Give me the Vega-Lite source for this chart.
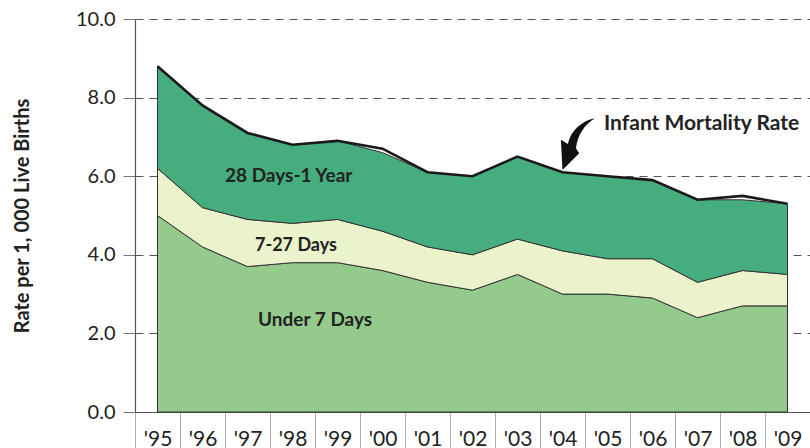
{
  "$schema": "https://vega.github.io/schema/vega-lite/v6.json",
  "width": 675,
  "height": 393,
  "autosize": {"type": "none"},
  "padding": {"left": 135, "top": 19, "right": 0, "bottom": 36},
  "background": "white",
  "config": {
    "view": {"stroke": null},
    "font": "Lato",
    "axis": {"labelFont": "Lato", "titleFont": "Lato"}
  },
  "datasets": {
    "areas": [
      {"year": "'95", "group": "Under 7 Days", "ord": 1, "rate": 5.0},
      {"year": "'96", "group": "Under 7 Days", "ord": 1, "rate": 4.2},
      {"year": "'97", "group": "Under 7 Days", "ord": 1, "rate": 3.7},
      {"year": "'98", "group": "Under 7 Days", "ord": 1, "rate": 3.8},
      {"year": "'99", "group": "Under 7 Days", "ord": 1, "rate": 3.8},
      {"year": "'00", "group": "Under 7 Days", "ord": 1, "rate": 3.6},
      {"year": "'01", "group": "Under 7 Days", "ord": 1, "rate": 3.3},
      {"year": "'02", "group": "Under 7 Days", "ord": 1, "rate": 3.1},
      {"year": "'03", "group": "Under 7 Days", "ord": 1, "rate": 3.5},
      {"year": "'04", "group": "Under 7 Days", "ord": 1, "rate": 3.0},
      {"year": "'05", "group": "Under 7 Days", "ord": 1, "rate": 3.0},
      {"year": "'06", "group": "Under 7 Days", "ord": 1, "rate": 2.9},
      {"year": "'07", "group": "Under 7 Days", "ord": 1, "rate": 2.4},
      {"year": "'08", "group": "Under 7 Days", "ord": 1, "rate": 2.7},
      {"year": "'09", "group": "Under 7 Days", "ord": 1, "rate": 2.7},
      {"year": "'95", "group": "7-27 Days", "ord": 2, "rate": 1.2},
      {"year": "'96", "group": "7-27 Days", "ord": 2, "rate": 1.0},
      {"year": "'97", "group": "7-27 Days", "ord": 2, "rate": 1.2},
      {"year": "'98", "group": "7-27 Days", "ord": 2, "rate": 1.0},
      {"year": "'99", "group": "7-27 Days", "ord": 2, "rate": 1.1},
      {"year": "'00", "group": "7-27 Days", "ord": 2, "rate": 1.0},
      {"year": "'01", "group": "7-27 Days", "ord": 2, "rate": 0.9},
      {"year": "'02", "group": "7-27 Days", "ord": 2, "rate": 0.9},
      {"year": "'03", "group": "7-27 Days", "ord": 2, "rate": 0.9},
      {"year": "'04", "group": "7-27 Days", "ord": 2, "rate": 1.1},
      {"year": "'05", "group": "7-27 Days", "ord": 2, "rate": 0.9},
      {"year": "'06", "group": "7-27 Days", "ord": 2, "rate": 1.0},
      {"year": "'07", "group": "7-27 Days", "ord": 2, "rate": 0.9},
      {"year": "'08", "group": "7-27 Days", "ord": 2, "rate": 0.9},
      {"year": "'09", "group": "7-27 Days", "ord": 2, "rate": 0.8},
      {"year": "'95", "group": "28 Days-1 Year", "ord": 3, "rate": 2.6},
      {"year": "'96", "group": "28 Days-1 Year", "ord": 3, "rate": 2.6},
      {"year": "'97", "group": "28 Days-1 Year", "ord": 3, "rate": 2.2},
      {"year": "'98", "group": "28 Days-1 Year", "ord": 3, "rate": 2.0},
      {"year": "'99", "group": "28 Days-1 Year", "ord": 3, "rate": 2.0},
      {"year": "'00", "group": "28 Days-1 Year", "ord": 3, "rate": 2.0},
      {"year": "'01", "group": "28 Days-1 Year", "ord": 3, "rate": 1.9},
      {"year": "'02", "group": "28 Days-1 Year", "ord": 3, "rate": 2.0},
      {"year": "'03", "group": "28 Days-1 Year", "ord": 3, "rate": 2.1},
      {"year": "'04", "group": "28 Days-1 Year", "ord": 3, "rate": 2.0},
      {"year": "'05", "group": "28 Days-1 Year", "ord": 3, "rate": 2.1},
      {"year": "'06", "group": "28 Days-1 Year", "ord": 3, "rate": 2.0},
      {"year": "'07", "group": "28 Days-1 Year", "ord": 3, "rate": 2.1},
      {"year": "'08", "group": "28 Days-1 Year", "ord": 3, "rate": 1.8},
      {"year": "'09", "group": "28 Days-1 Year", "ord": 3, "rate": 1.8}
    ],
    "imr": [
      {"year": "'95", "rate": 8.8},
      {"year": "'96", "rate": 7.8},
      {"year": "'97", "rate": 7.1},
      {"year": "'98", "rate": 6.8},
      {"year": "'99", "rate": 6.9},
      {"year": "'00", "rate": 6.7},
      {"year": "'01", "rate": 6.1},
      {"year": "'02", "rate": 6.0},
      {"year": "'03", "rate": 6.5},
      {"year": "'04", "rate": 6.1},
      {"year": "'05", "rate": 6.0},
      {"year": "'06", "rate": 5.9},
      {"year": "'07", "rate": 5.4},
      {"year": "'08", "rate": 5.5},
      {"year": "'09", "rate": 5.3}
    ]
  },
  "layer": [
    {
      "data": {"name": "areas"},
      "mark": {"type": "area", "stroke": "#333", "strokeWidth": 1},
      "encoding": {
        "x": {
          "field": "year", "type": "ordinal", "sort": null,
          "bandPosition": 0.5,
          "scale": {"type": "band", "paddingInner": 0, "paddingOuter": 0},
          "axis": {
            "title": null, "labelAngle": 0, "labelFontSize": 21, "labelColor": "#222",
            "tickBand": "extent", "tickSize": 36, "tickColor": "#b0b0b0", "tickWidth": 1,
            "domainColor": "#555", "domainWidth": 1.2,
            "labelBaseline": "alphabetic", "labelPadding": -3, "grid": false
          }
        },
        "y": {
          "field": "rate", "type": "quantitative", "stack": "zero",
          "scale": {"domain": [0, 10], "nice": false},
          "axis": {
            "title": "Rate per 1, 000 Live Births", "titleFontSize": 20, "titleFontWeight": "bold",
            "titleColor": "#222", "titlePadding": 43,
            "values": [0, 2, 4, 6, 8, 10], "format": ".1f",
            "labelFontSize": 20, "labelColor": "#222", "labelPadding": 8,
            "tickSize": 12, "tickColor": "#777", "domainColor": "#555", "domainWidth": 1.2,
            "grid": true, "gridDash": [8, 6], "gridColor": "#555", "gridWidth": 1.2
          }
        },
        "color": {
          "field": "group", "type": "nominal",
          "scale": {"domain": ["Under 7 Days", "7-27 Days", "28 Days-1 Year"], "range": ["#94CB8C", "#EBF3CD", "#45AD7E"]},
          "legend": null
        },
        "order": {"field": "ord", "type": "quantitative"}
      }
    },
    {
      "data": {"name": "imr"},
      "mark": {"type": "line", "color": "#1a1a1a", "strokeWidth": 2.6},
      "encoding": {
        "x": {"field": "year", "type": "ordinal", "sort": null, "bandPosition": 0.5},
        "y": {"field": "rate", "type": "quantitative"}
      }
    },
    {
      "data": {"values": [{"year": "'97", "rate": 6.0, "text": "28 Days-1 Year"}]},
      "mark": {"type": "text", "align": "left", "baseline": "middle", "fontSize": 19, "fontWeight": "bold", "color": "#222", "dx": 0},
      "encoding": {
        "x": {"field": "year", "type": "ordinal", "sort": null, "bandPosition": 0},
        "y": {"field": "rate", "type": "quantitative"},
        "text": {"field": "text"}
      }
    },
    {
      "data": {"values": [{"year": "'98", "rate": 4.22, "text": "7-27 Days"}]},
      "mark": {"type": "text", "align": "left", "baseline": "middle", "fontSize": 18, "fontWeight": "bold", "color": "#222", "dx": -15},
      "encoding": {
        "x": {"field": "year", "type": "ordinal", "sort": null, "bandPosition": 0},
        "y": {"field": "rate", "type": "quantitative"},
        "text": {"field": "text"}
      }
    },
    {
      "data": {"values": [{"year": "'98", "rate": 2.34, "text": "Under 7 Days"}]},
      "mark": {"type": "text", "align": "left", "baseline": "middle", "fontSize": 19, "fontWeight": "bold", "color": "#222", "dx": -12},
      "encoding": {
        "x": {"field": "year", "type": "ordinal", "sort": null, "bandPosition": 0},
        "y": {"field": "rate", "type": "quantitative"},
        "text": {"field": "text"}
      }
    },
    {
      "data": {"values": [{"year": "'05", "rate": 7.33, "text": "Infant Mortality Rate"}]},
      "mark": {"type": "text", "align": "left", "baseline": "middle", "fontSize": 21, "fontWeight": "bold", "color": "#222", "dx": 19},
      "encoding": {
        "x": {"field": "year", "type": "ordinal", "sort": null, "bandPosition": 0},
        "y": {"field": "rate", "type": "quantitative"},
        "text": {"field": "text"}
      }
    },
    {
      "data": {"values": [{"year": "'04", "rate": 6.16}]},
      "mark": {
        "type": "point", "filled": true, "color": "#111", "opacity": 1, "size": 2900,
        "shape": "M0,0 L-0.06,-1.12 L0.2,-0.96 C0.3,-1.45 0.7,-1.82 1.2,-1.92 C0.8,-1.66 0.56,-1.3 0.5,-0.8 L0.62,-0.62 Z"
      },
      "encoding": {
        "x": {"field": "year", "type": "ordinal", "sort": null, "bandPosition": 0.5},
        "y": {"field": "rate", "type": "quantitative"}
      }
    }
  ]
}
